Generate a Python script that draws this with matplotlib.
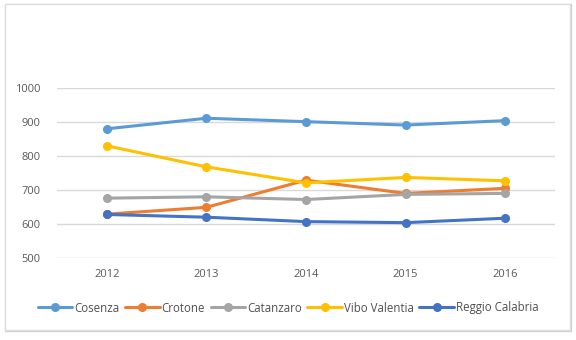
import matplotlib
matplotlib.use("Agg")
import matplotlib.pyplot as plt
from matplotlib.patches import Rectangle

years = ["2012", "2013", "2014", "2015", "2016"]
cosenza = [880, 911, 901, 891, 904]
crotone = [629, 649, 729, 690, 705]
catanzaro = [676, 680, 672, 687, 690]
vibo = [830, 768, 721, 737, 727]
reggio = [628, 620, 607, 604, 617]

series = [
    ("Cosenza", cosenza, "#5B9BD5"),
    ("Crotone", crotone, "#ED7D31"),
    ("Catanzaro", catanzaro, "#A5A5A5"),
    ("Vibo Valentia", vibo, "#FFC000"),
    ("Reggio Calabria", reggio, "#4472C4"),
]

plt.rcParams["font.family"] = ["Open Sans", "DejaVu Sans"]

fig = plt.figure(figsize=(5.76, 3.40), dpi=100)
# chart border with a slightly heavier right/bottom edge
fig.add_artist(Rectangle((6 / 576, 9 / 340), 565 / 576, 326 / 340,
                         transform=fig.transFigure, fill=False,
                         edgecolor="#D0D0D0", linewidth=1.6, zorder=-2))
fig.add_artist(Rectangle((5 / 576, 10 / 340), 565 / 576, 326 / 340,
                         transform=fig.transFigure, facecolor="white",
                         edgecolor="#DDDDDD", linewidth=1.0, zorder=-1))

ax = fig.add_axes([57 / 576, 82 / 340, 498 / 576, 170 / 340])
ax.patch.set_alpha(0)
x = list(range(len(years)))
for name, vals, col in series:
    ax.plot(x, vals, color=col, linewidth=2.2, marker="o", markersize=5.5,
            label=name, solid_capstyle="round")

ax.set_xlim(-0.5, len(years) - 0.5)
ax.set_ylim(500, 1000)
ax.set_yticks([500, 600, 700, 800, 900, 1000])
ax.set_xticks(x)
ax.set_xticklabels(years)
ax.grid(axis="y", color="#D9D9D9", linewidth=1)
ax.set_axisbelow(True)
for s in ax.spines.values():
    s.set_visible(False)
ax.tick_params(length=0, labelsize=8, colors="#595959", pad=8)
ax.tick_params(axis="y", pad=12)

leg = fig.legend(loc="center", bbox_to_anchor=(0.5, 32 / 340), ncol=5,
                 frameon=False, fontsize=8.3, handlelength=3.0,
                 handletextpad=0.15, columnspacing=0.5, labelcolor="#505050")

fig.savefig("out.png", dpi=100, facecolor="white")
